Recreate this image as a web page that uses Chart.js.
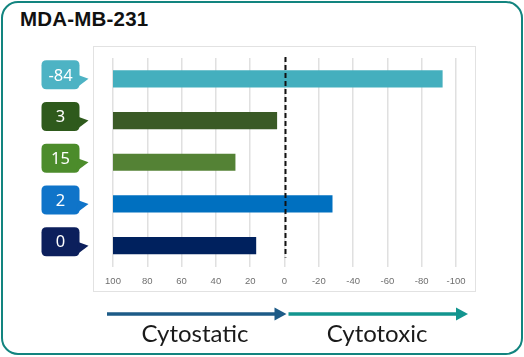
<!DOCTYPE html>
<html>
<head>
<meta charset="utf-8">
<script src="https://cdn.jsdelivr.net/npm/chart.js@4/dist/chart.umd.min.js"></script>
<style>
  html, body { margin: 0; padding: 0; background: #ffffff; }
  #wrap { position: relative; width: 524px; height: 357px; overflow: hidden; }
  #frame { position: absolute; left: 1px; top: 1px; width: 522px; height: 354px; box-sizing: border-box;
           border: 2.5px solid #12847f; border-radius: 17px; }
  #plotbox { position: absolute; left: 93px; top: 46px; width: 383px; height: 246px; box-sizing: border-box;
             border: 1.5px solid #e2e2e2; }
  #title { position: absolute; left: 20px; top: 7px; font-family: "Liberation Sans", Arial, sans-serif;
           font-weight: bold; font-size: 20.5px; color: #111; letter-spacing: 0.2px; }
  canvas { position: absolute; left: 0; top: 0; }
</style>
</head>
<body>
<div id="wrap">
  <div id="frame"></div>
  <div id="plotbox"></div>
  <div id="title">MDA-MB-231</div>
  <canvas id="c" width="524" height="357"></canvas>
</div>
<script>
// ---- data ----
const categories = ['-84', '3', '15', '2', '0'];
const bubbleLabels = ['-84', '3', '15', '2', '0'];
const barStart = [100, 100, 100, 100, 100];
const barEnd = [-92, 4.5, 28.8, -27.8, 16.7];
const barColors = ['#44afbe', '#3a5a26', '#548235', '#0070c0', '#00215e'];
const bubbleColors = ['#4db3c4', '#2e5a1c', '#4c8c2b', '#0f74c9', '#0c1f5c'];
const tickValues = [100, 80, 60, 40, 20, 0, -20, -40, -60, -80, -100];
const arrowLabels = ['Cytostatic', 'Cytotoxic'];

function roundRect(ctx, x, y, w, h, r) {
  ctx.beginPath();
  ctx.moveTo(x + r, y);
  ctx.lineTo(x + w - r, y);
  ctx.quadraticCurveTo(x + w, y, x + w, y + r);
  ctx.lineTo(x + w, y + h - r);
  ctx.quadraticCurveTo(x + w, y + h, x + w - r, y + h);
  ctx.lineTo(x + r, y + h);
  ctx.quadraticCurveTo(x, y + h, x, y + h - r);
  ctx.lineTo(x, y + r);
  ctx.quadraticCurveTo(x, y, x + r, y);
  ctx.closePath();
}

const decor = {
  id: 'decor',
  afterDatasetsDraw(chart) {
    const ctx = chart.ctx;
    const xs = chart.scales.x, ys = chart.scales.y;
    const area = chart.chartArea;
    const x0 = xs.getPixelForValue(0);
    // dashed zero line
    ctx.save();
    ctx.strokeStyle = '#111';
    ctx.lineWidth = 2;
    ctx.setLineDash([5, 3]);
    ctx.beginPath();
    ctx.moveTo(x0 + 1, area.top - 1);
    ctx.lineTo(x0 + 1, area.bottom - 9);
    ctx.stroke();
    ctx.restore();

    // bubbles
    bubbleLabels.forEach((lab, i) => {
      const y = ys.getPixelForValue(i);
      const bx = 41.5, bw = 38, bh = 29;
      const by = y - 18.5;
      ctx.save();
      ctx.fillStyle = bubbleColors[i];
      roundRect(ctx, bx, by, bw, bh, 5);
      ctx.fill();
      ctx.beginPath();
      ctx.moveTo(bx + bw - 2, y - 4);
      ctx.lineTo(bx + bw + 9, y);
      ctx.lineTo(bx + bw - 3, y + 9);
      ctx.closePath();
      ctx.fill();
      ctx.fillStyle = '#ffffff';
      ctx.font = '16.5px "Noto Sans", "Open Sans", sans-serif';
      ctx.textAlign = 'center';
      ctx.textBaseline = 'middle';
      ctx.fillText(lab, bx + bw / 2, by + bh / 2 + 1);
      ctx.restore();
    });

    // bottom arrows
    const ay = 314;
    const drawArrow = (xa, xb, color) => {
      ctx.save();
      ctx.strokeStyle = color;
      ctx.fillStyle = color;
      ctx.lineWidth = 3.5;
      ctx.beginPath();
      ctx.moveTo(xa, ay);
      ctx.lineTo(xb - 10, ay);
      ctx.stroke();
      ctx.beginPath();
      ctx.moveTo(xb - 12, ay - 6.5);
      ctx.lineTo(xb, ay);
      ctx.lineTo(xb - 12, ay + 6.5);
      ctx.closePath();
      ctx.fill();
      ctx.restore();
    };
    drawArrow(107, x0 + 2, '#1d5b87');
    drawArrow(x0 + 4, 468, '#12958f');
    ctx.save();
    ctx.fillStyle = '#1a1a1a';
    ctx.font = '24px Lato, "Noto Sans", sans-serif';
    ctx.textAlign = 'center';
    ctx.textBaseline = 'alphabetic';
    ctx.fillText(arrowLabels[0], 195, 342);
    ctx.fillText(arrowLabels[1], 377, 342);
    ctx.restore();
  }
};

new Chart(document.getElementById('c'), {
  type: 'bar',
  data: {
    labels: categories,
    datasets: [{
      data: barStart.map((s, i) => [s, barEnd[i]]),
      backgroundColor: barColors,
      borderWidth: 0,
      barThickness: 16.5
    }]
  },
  options: {
    indexAxis: 'y',
    responsive: false,
    devicePixelRatio: 1,
    animation: false,
    layout: { padding: { left: 113, right: 68, top: 58, bottom: 70.5 } },
    plugins: { legend: { display: false }, tooltip: { enabled: false } },
    scales: {
      x: {
        reverse: true,
        min: -100,
        max: 100,
        afterBuildTicks(scale) { scale.ticks = tickValues.map(v => ({ value: v })); },
        afterFit(scale) { scale.height = 20; },
        grid: { color: '#e0e0e0', lineWidth: 1.5, drawTicks: false },
        border: { display: false },
        ticks: {
          padding: 9,
          color: '#6f6f6f',
          font: { family: '"Liberation Sans", Arial, sans-serif', size: 9.5 },
          maxRotation: 0,
          autoSkip: false
        }
      },
      y: {
        display: false,
        grid: { display: false }
      }
    }
  },
  plugins: [decor]
});
</script>
</body>
</html>
